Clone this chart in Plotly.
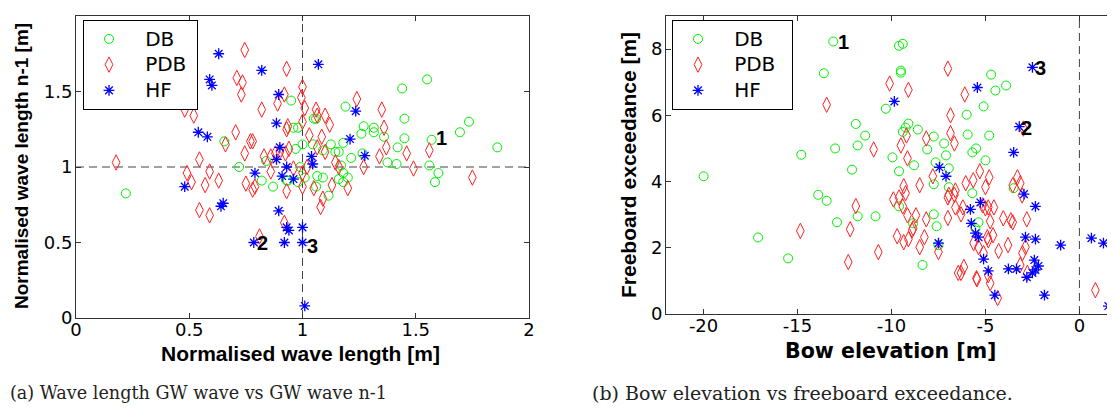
import plotly.graph_objects as go

# ---------------- data: (a) wave length n vs n-1 ----------------
wl_db_x = [0.22, 0.95, 0.655, 0.72, 0.84, 0.82, 0.87, 0.935, 0.96, 0.98, 0.99, 0.98,
           1.55, 1.44, 1.45, 1.735, 1.695, 1.86, 1.57, 1.45, 1.42, 1.315, 1.315, 1.27,
           1.26, 1.36, 1.19, 1.18, 1.125, 1.05, 1.0, 1.045, 1.09, 1.145, 1.16, 1.215,
           1.265, 1.375, 1.415, 1.56, 1.60, 1.585, 1.17, 1.18, 1.2, 1.16, 1.18, 1.09,
           1.115, 1.01, 0.93, 1.06, 1.065, 1.06, 0.97]
wl_db_y = [0.825, 1.44, 1.17, 1.0, 1.04, 0.91, 0.87, 0.91, 1.26, 1.26, 1.0, 0.90,
           1.58, 1.52, 1.32, 1.30, 1.23, 1.13, 1.18, 1.19, 1.13, 1.26, 1.23, 1.27,
           1.22, 1.20, 1.40, 1.16, 1.15, 1.32, 1.15, 1.15, 1.11, 1.10, 1.10, 1.06,
           1.09, 1.03, 1.02, 1.01, 0.96, 0.90, 1.01, 0.96, 0.93, 0.92, 0.90, 0.93,
           0.81, 0.93, 0.91, 1.32, 0.94, 0.87, 1.12]

wl_pdb_x = [0.177, 0.745, 0.48, 0.52, 0.71, 0.735, 0.73, 0.82, 0.93, 0.92, 0.89, 0.705,
            0.66, 0.78, 0.745, 0.545, 0.49, 0.51, 0.57, 0.59, 0.63, 0.75, 0.79, 0.78,
            0.93, 0.83, 0.86, 0.88, 0.90, 0.93, 0.935, 0.86, 0.545, 0.59, 0.92, 0.81,
            1.08, 1.09, 1.2, 1.75, 1.49, 1.0, 0.995, 1.01, 1.24, 1.35, 1.06, 1.065,
            1.10, 1.12, 1.0, 1.03, 1.085, 1.36, 1.37, 1.34, 1.46, 1.56, 1.065, 1.10,
            1.145, 1.16, 1.27, 1.13, 1.05, 0.96, 0.925, 1.0, 0.94, 1.02, 1.0, 0.77]
wl_pdb_y = [1.03, 1.775, 1.38, 1.34, 1.59, 1.56, 1.48, 1.38, 1.65, 1.48, 1.42, 1.23,
            1.15, 1.17, 1.09, 1.05, 0.96, 0.90, 0.88, 0.97, 0.91, 0.89, 0.87, 0.85,
            0.84, 1.07, 1.07, 1.09, 1.10, 1.25, 1.27, 0.97, 0.715, 0.68, 0.63, 0.54,
            0.735, 0.79, 0.86, 0.93, 0.99, 1.53, 1.46, 1.39, 1.45, 1.38, 1.38, 1.34,
            1.34, 1.28, 1.30, 1.21, 1.20, 1.26, 1.13, 1.07, 1.09, 1.11, 1.13, 1.10,
            1.03, 1.0, 1.0, 0.88, 0.86, 0.99, 1.09, 0.96, 1.12, 1.0, 0.87, 1.17]

wl_hf_x = [0.63, 0.59, 0.60, 0.82, 0.895, 0.885, 0.54, 0.58, 0.48, 0.79, 0.90, 0.885,
           0.93, 0.91, 0.96, 0.64, 0.65, 0.895, 0.93, 0.94, 0.92, 0.785, 1.0, 1.0,
           1.01, 1.07, 1.235, 1.21, 1.275, 1.04, 1.045]
wl_hf_y = [1.75, 1.58, 1.54, 1.64, 1.48, 1.29, 1.23, 1.20, 0.87, 0.96, 1.13, 1.05,
           1.0, 0.94, 0.92, 0.74, 0.76, 0.71, 0.60, 0.58, 0.50, 0.50, 0.60, 0.50,
           0.08, 1.68, 1.37, 1.185, 1.075, 1.07, 1.02]

wl_label_x = [1.58, 0.79, 1.01]
wl_label_y = [1.19, 0.50, 0.48]
wl_label_text = ["1", "2", "3"]
wl_ref_x = 1.0
wl_ref_y = 1.0

# ---------------- data: (b) bow elevation vs freeboard exceedance ----------------
be_db_x = [-20.0, -13.1, -13.6, -14.8, -13.0, -12.1, -11.9, -11.8, -13.9, -13.45, -17.1,
           -15.5, -12.9, -11.8, -10.3, -11.4, -10.85, -9.4, -9.25, -9.1, -8.6, -7.75,
           -8.1, -7.2, -7.1, -9.95, -8.8, -9.6, -7.65, -6.95, -7.75, -6.95, -9.6, -7.75,
           -8.85, -7.6, -8.35, -7.5, -9.6, -9.4, -9.5, -9.5, -4.7, -4.47, -3.9, -5.1,
           -6.0, -5.95, -4.8, -5.5, -5.7, -5.0, -5.7, -3.5, -5.37, -5.53]
be_db_y = [4.16, 8.23, 7.27, 4.81, 5.0, 4.36, 5.74, 5.09, 3.6, 3.42, 2.31,
           1.68, 2.77, 2.95, 6.2, 5.39, 2.95, 5.5, 5.63, 5.75, 5.57, 5.36,
           4.97, 5.15, 4.79, 4.73, 4.49, 4.31, 4.58, 4.4, 3.92, 3.83, 3.25, 3.01,
           2.74, 2.65, 1.48, 2.08, 8.1, 8.16, 7.35, 7.29, 7.23, 6.75, 6.9, 6.27,
           6.02, 5.42, 5.39, 5.0, 4.88, 4.64, 3.65, 3.8, 2.77, 2.59]

be_pdb_x = [-13.45, -14.85, -12.2, -12.3, -11.9, -6.86, -6.86, -6.65, -8.15, -9.5, -9.2,
            -10.95, -9.15, -7.8, -9.35, -9.25, -8.5, -9.9, -9.6, -9.4, -9.15, -8.7,
            -8.85, -8.15, -7.0, -6.95, -6.6, -6.65, -6.6, -7.0, -9.7, -9.35, -9.1,
            -8.5, -8.25, -7.5, -10.7, -6.45, -8.9, -7.0, -10.1, -9.1, -6.1, -5.3,
            -4.8, -5.65, -6.05, -5.0, -3.3, -3.15, -3.05, -2.98, -3.55, -5.15, -4.85,
            -4.55, -5.0, -6.2, -6.3, -4.75, -4.05, -3.65, -3.55, -2.8, -5.63, -5.37,
            -4.9, -4.6, -4.85, -5.1, -4.3, -3.8, -2.87, -3.03, -6.15, -6.3, -5.48,
            -5.45, -4.85, -4.75, -3.15, -2.77, -4.35, 0.85]
be_pdb_y = [6.32, 2.51, 2.56, 1.57, 3.26, 6.0, 5.46, 5.15, 5.3, 5.09, 5.39,
            4.97, 4.7, 4.16, 3.86, 3.65, 3.89, 3.46, 3.52, 3.25, 2.98, 2.98,
            2.59, 2.86, 3.52, 3.6, 3.73, 3.6, 3.22, 2.9, 2.35, 2.17, 2.26,
            2.02, 2.32, 1.87, 1.87, 1.24, 2.53, 7.41, 6.96, 6.77, 6.63, 4.31,
            4.13, 4.04, 3.95, 3.83, 4.13, 3.95, 3.58, 5.6, 3.89, 3.28, 3.22,
            3.22, 3.19, 3.22, 3.01, 2.8, 2.89, 2.83, 2.77, 2.86, 2.14, 2.02,
            2.32, 2.38, 2.23, 1.84, 1.9, 2.08, 2.02, 1.84, 1.42, 1.24, 1.08,
            1.05, 1.17, 0.93, 1.48, 1.24, 0.48, 0.72]

be_hf_x = [-9.85, -7.45, -7.1, -7.5, -2.5, -5.43, -3.2, -3.5, -2.95, -2.34, -5.8,
           -5.27, -5.75, -5.53, -5.37, -2.87, -2.34, -1.0, 0.64, 1.28, -5.1, -4.85,
           -3.78, -3.35, -2.4, -2.18, -2.34, -2.5, -2.8, -4.5, -1.86, 1.54]
be_hf_y = [6.42, 4.43, 4.16, 2.14, 7.45, 6.84, 5.66, 4.88, 3.62, 3.25, 3.16,
           3.37, 2.74, 2.44, 2.32, 2.32, 2.26, 2.08, 2.29, 2.14, 1.66, 1.30,
           1.36, 1.36, 1.63, 1.45, 1.33, 1.24, 1.11, 0.57, 0.57, 0.24]

be_label_x = [-12.98, -3.19, -2.45]
be_label_y = [8.2, 5.63, 7.44]
be_label_text = ["1", "2", "3"]
be_ref_x = 0.0

series_names = ["DB", "PDB", "HF"]
wl_ticks = [0, 0.5, 1, 1.5, 2]
wl_ticktext = ["0", "0.5", "1", "1.5", "2"]
be_xticks = [-20, -15, -10, -5, 0]
be_xticktext = ["-20", "-15", "-10", "-5", "0"]
be_yticks = [0, 2, 4, 6, 8]
be_yticktext = ["0", "2", "4", "6", "8"]

# ---------------- figure ----------------
# The page body adds an 8 px margin, so target-pixel positions are shifted by it.
W, H = 1115, 410
OFF = 8
def px(x):
    return (x - OFF) / W
def py(y):
    return 1 - (y - OFF) / H

GREEN = "#00ee00"
RED = "#ff2020"
BLUE = "#0000ff"
AX = "#333333"
SANS = "DejaVu Sans"
ARIAL = "Liberation Sans"
NB = "\u00a0"

styles = [
    dict(symbol="circle-open", size=9, color=GREEN, line=dict(color=GREEN, width=1)),
    dict(symbol="diamond-tall-open", size=11, color=RED, line=dict(color=RED, width=1)),
    dict(symbol="asterisk-open", size=9, color=BLUE, line=dict(color=BLUE, width=1.3)),
]

def legend_name(n, lead, trail):
    return NB * lead + '<span style="font-size:20px">%s</span>' % n + NB * trail

fig = go.Figure()
left_sets = [(wl_db_x, wl_db_y), (wl_pdb_x, wl_pdb_y), (wl_hf_x, wl_hf_y)]
right_sets = [(be_db_x, be_db_y), (be_pdb_x, be_pdb_y), (be_hf_x, be_hf_y)]
for name, (xs, ys), st in zip(series_names, left_sets, styles):
    fig.add_trace(go.Scatter(x=xs, y=ys, mode="markers", name=legend_name(name, 2, 1),
                             marker=st, xaxis="x", yaxis="y", legend="legend"))
for name, (xs, ys), st in zip(series_names, right_sets, styles):
    fig.add_trace(go.Scatter(x=xs, y=ys, mode="markers", name=legend_name(name, 2, 2),
                             marker=st, xaxis="x2", yaxis="y2", legend="legend2"))

tickfont = dict(family=SANS, size=18, color="black")
common = dict(showgrid=False, zeroline=False, showline=True, linecolor=AX, linewidth=1,
              ticks="inside", ticklen=5, tickcolor=AX, tickfont=tickfont, automargin=False)

legend_common = dict(xanchor="left", yanchor="top", bordercolor="black", borderwidth=1,
                     bgcolor="white", font=dict(family=SANS, size=17.5, color="black"),
                     traceorder="normal", itemwidth=40)

fig.update_layout(
    width=W, height=H, margin=dict(l=0, r=0, t=0, b=0, pad=0, autoexpand=False),
    paper_bgcolor="white", plot_bgcolor="white",
    xaxis=dict(domain=[px(76), px(529)], range=[0, 2], tickvals=wl_ticks,
               ticktext=wl_ticktext, anchor="y", mirror="allticks",
               ticklabelstandoff=-5, **common),
    yaxis=dict(domain=[py(318), py(16)], range=[0, 2], tickvals=wl_ticks,
               ticktext=wl_ticktext, anchor="x", mirror="allticks",
               ticklabelstandoff=-1, **common),
    xaxis2=dict(domain=[px(666), px(1117)], range=[-22, 2], tickvals=be_xticks,
                ticktext=be_xticktext, anchor="y2", mirror="allticks",
                ticklabelstandoff=-5, **common),
    yaxis2=dict(domain=[py(314), py(16)], range=[0, 9], tickvals=be_yticks,
                ticktext=be_yticktext, anchor="x2", mirror="allticks",
                ticklabelstandoff=-1, **common),
    showlegend=True,
    legend=dict(x=px(83), y=py(20), **legend_common),
    legend2=dict(x=px(672), y=py(20), **legend_common),
)

dash = dict(color="#444444", width=1, dash="8px,5px")
fig.add_shape(type="line", xref="x", yref="y", x0=wl_ref_x, x1=wl_ref_x, y0=0, y1=2, line=dash, layer="below")
fig.add_shape(type="line", xref="x", yref="y", x0=0, x1=2, y0=wl_ref_y, y1=wl_ref_y, line=dash, layer="below")
fig.add_shape(type="line", xref="x2", yref="y2", x0=be_ref_x, x1=be_ref_x, y0=0, y1=9, line=dash, layer="below")

for lx, ly, lt in zip(wl_label_x, wl_label_y, wl_label_text):
    fig.add_annotation(x=lx, y=ly, xref="x", yref="y", text="<b>%s</b>" % lt, showarrow=False,
                       xanchor="left", yanchor="middle", font=dict(family=ARIAL, size=20, color="black"))
for lx, ly, lt in zip(be_label_x, be_label_y, be_label_text):
    fig.add_annotation(x=lx, y=ly, xref="x2", yref="y2", text="<b>%s</b>" % lt, showarrow=False,
                       xanchor="left", yanchor="middle", font=dict(family=ARIAL, size=20, color="black"))

def title(text, x, y, family, size, angle=0):
    fig.add_annotation(x=px(x), y=py(y), xref="paper", yref="paper", text="<b>%s</b>" % text,
                       showarrow=False, xanchor="center", yanchor="middle", textangle=angle,
                       font=dict(family=family, size=size, color="black"))

title("Normalised wave length [m]", 300, 353, ARIAL, 21)
title("Normalised wave length n-1 [m]", 21, 166, ARIAL, 19, -90)
title("Bow elevation [m]", 891, 351, SANS, 20.6)
title("Freeboard exceedance [m]", 628, 165, ARIAL, 21, -90)

fig.add_annotation(x=px(8), y=py(393), xref="paper", yref="paper", showarrow=False,
                   xanchor="left", yanchor="middle", text="(a) Wave length GW wave vs GW wave n-1",
                   font=dict(family="DejaVu Serif", size=17.6, color="#222222"))
fig.add_annotation(x=px(590), y=py(393), xref="paper", yref="paper", showarrow=False,
                   xanchor="left", yanchor="middle", text="(b) Bow elevation vs freeboard exceedance.",
                   font=dict(family="DejaVu Serif", size=19, color="#222222"))

fig.write_html("out.html")
